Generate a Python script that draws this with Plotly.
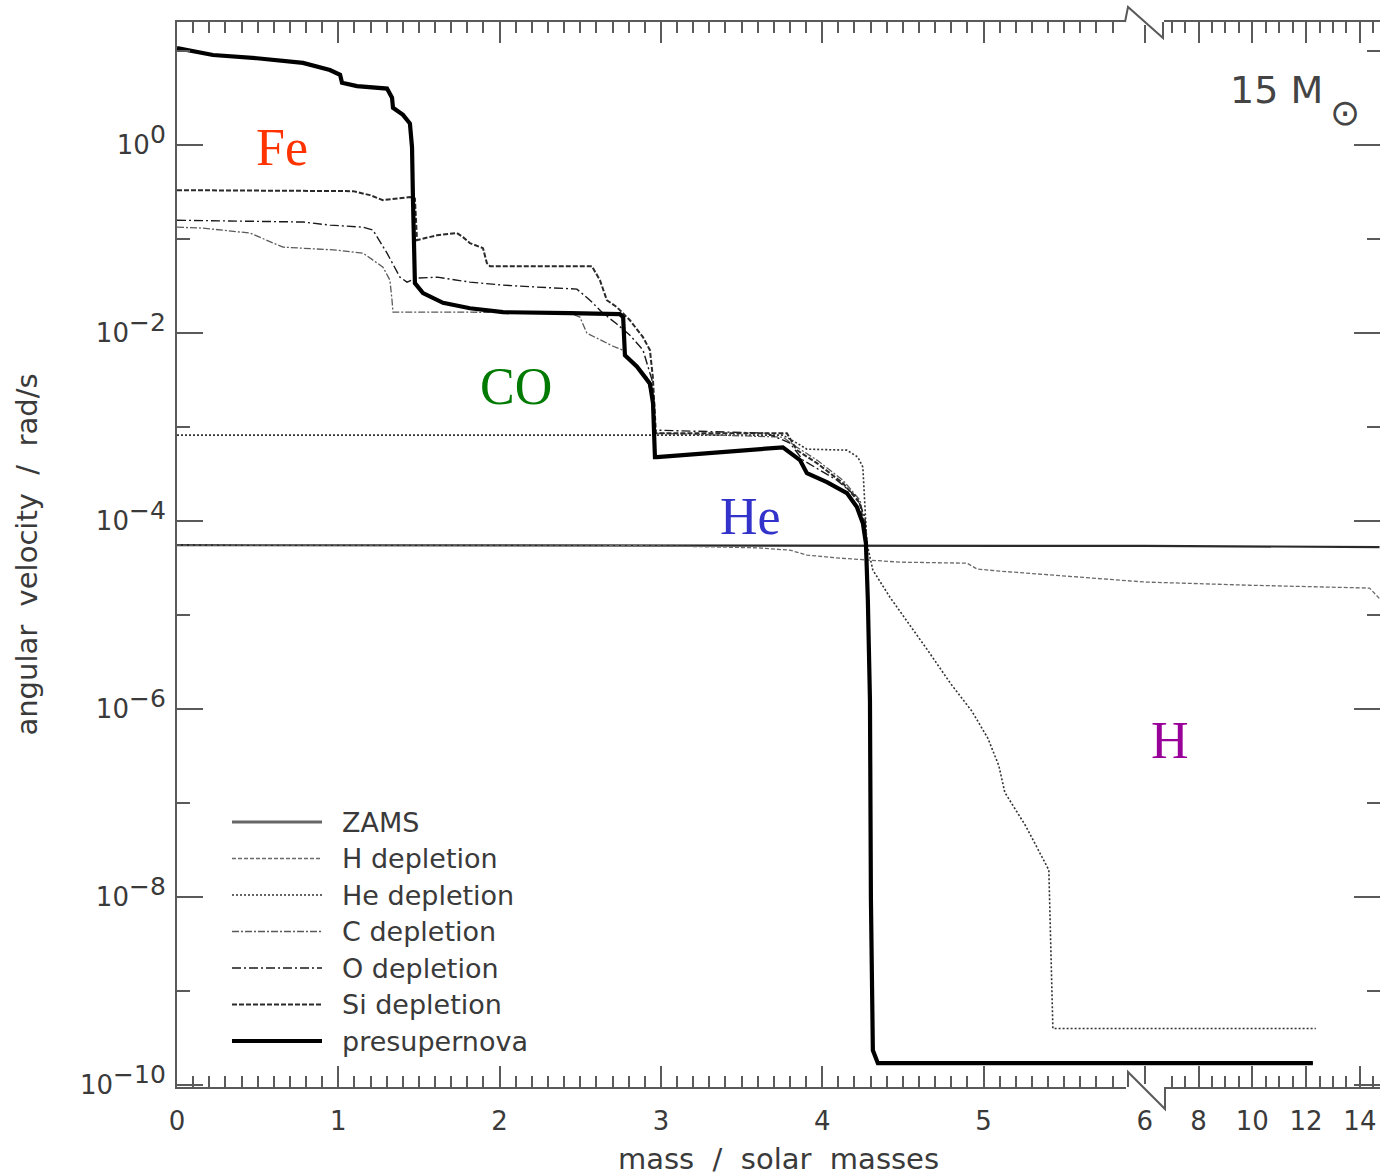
import plotly.graph_objects as go

# ---------------- data (mass in solar masses, angular velocity in rad/s) ----------------
zams_m = [0.0, 6.0, 14.73]
zams_w = [5.55e-5, 5.45e-5, 5.3e-5]

hdep_m = [0.0, 2.622, 3.137, 3.596, 3.800, 3.905, 4.110, 4.482, 4.898, 4.960, 5.102, 5.412, 6.0, 9.90, 14.36, 14.73]
hdep_w = [5.55e-5, 5.55e-5, 5.4e-5, 5.2e-5, 4.91e-5, 4.35e-5, 4.04e-5, 3.66e-5, 3.57e-5, 3.09e-5, 2.94e-5,
          2.67e-5, 2.25e-5, 2.08e-5, 1.94e-5, 1.5e-5]

hedep_m = [0.0, 3.756, 3.843, 3.905, 4.153, 4.221, 4.252, 4.265, 4.277, 4.314, 4.420, 4.655, 4.798, 4.928,
           5.027, 5.095, 5.132, 5.262, 5.405, 5.430, 12.36]
hedep_w = [8.22e-4, 8.22e-4, 6.76e-4, 5.83e-4, 5.69e-4, 4.80e-4, 3.75e-4, 1.31e-4, 5.83e-5, 3.01e-5, 1.55e-5,
           4.2e-6, 1.85e-6, 9.5e-7, 4.9e-7, 2.5e-7, 1.3e-7, 5.7e-8, 1.94e-8, 4.0e-10, 4.0e-10]

cdep_m = [0.0, 0.161, 0.452, 0.657, 0.992, 1.153, 1.277, 1.320, 1.333, 1.339, 1.816, 2.436, 2.498, 2.541,
          2.700, 2.765, 2.808, 2.914, 2.944, 2.963, 3.756, 3.843, 3.967, 4.128, 4.234, 4.265, 4.277,
          4.283, 4.296, 4.302, 4.314, 4.345, 12.25]
cdep_w = [0.134, 0.131, 0.116, 0.0822, 0.0764, 0.0710, 0.0504, 0.0366, 0.0224, 0.0167, 0.0167, 0.0163,
          0.0148, 0.0100, 0.0073, 0.0066, 0.00516, 0.0034, 0.00194, 8.63e-4, 7.83e-4, 6.12e-4, 4.46e-4,
          2.73e-4, 1.67e-4, 9.5e-5, 5.83e-5, 1.44e-5, 1.25e-6, 9.3e-9, 2.35e-10, 1.71e-10, 1.71e-10]

odep_m = [0.0, 0.781, 0.948, 1.153, 1.215, 1.302, 1.382, 1.426, 1.488, 1.612, 1.816, 2.021, 2.231, 2.479,
          2.560, 2.641, 2.727, 2.808, 2.889, 2.944, 2.963, 3.657, 3.800, 3.880, 4.091, 4.215, 4.265, 4.277,
          4.283, 4.296, 4.302, 4.314, 4.345, 12.25]
odep_w = [0.159, 0.152, 0.141, 0.134, 0.125, 0.0710, 0.0394, 0.0349, 0.0385, 0.0394, 0.0349, 0.0324, 0.0309,
          0.0294, 0.0224, 0.0163, 0.0125, 0.0095, 0.0066, 0.0032, 9.29e-4, 8.63e-4, 6.76e-4, 4.46e-4, 2.73e-4,
          1.80e-4, 1.10e-4, 5.83e-5, 1.44e-5, 1.25e-6, 9.3e-9, 2.35e-10, 1.71e-10, 1.71e-10]

sidep_m = [0.0, 1.091, 1.196, 1.277, 1.444, 1.475, 1.488, 1.612, 1.736, 1.773, 1.816, 1.897, 1.921, 1.940,
           2.572, 2.622, 2.665, 2.727, 2.808, 2.889, 2.932, 2.950, 2.969, 3.781, 3.843, 3.967, 4.128, 4.234,
           4.265, 4.283, 4.296, 4.302, 4.314, 4.345, 12.25]
sidep_w = [0.332, 0.324, 0.294, 0.260, 0.280, 0.270, 0.0976, 0.110, 0.116, 0.105, 0.0906, 0.0802, 0.0556,
           0.0516, 0.0516, 0.0366, 0.0224, 0.0189, 0.0137, 0.00906, 0.00659, 0.0034, 8.63e-4, 8.63e-4,
           5.69e-4, 4.14e-4, 2.54e-4, 1.55e-4, 7.45e-5, 1.44e-5, 1.25e-6, 9.3e-9, 2.35e-10, 1.71e-10, 1.71e-10]

presn_m = [0.0, 0.223, 0.496, 0.781, 0.948, 1.011, 1.023, 1.116, 1.302, 1.333, 1.339, 1.401, 1.444, 1.457,
           1.463, 1.475, 1.525, 1.649, 1.816, 2.021, 2.436, 2.746, 2.766, 2.777, 2.852, 2.932, 2.951, 2.963,
           2.975, 3.756, 3.862, 3.905, 4.029, 4.153, 4.215, 4.252, 4.271, 4.283, 4.296, 4.302, 4.314, 4.345, 12.25]
presn_w = [10.8, 9.1, 8.4, 7.5, 6.3, 5.6, 4.6, 4.24, 4.0, 3.2, 2.5, 2.1, 1.7, 0.95, 0.26, 0.034, 0.0267,
           0.021, 0.0184, 0.0167, 0.0163, 0.0159, 0.0148, 0.0058, 0.0044, 0.0029, 0.0018, 4.8e-4, 4.8e-4,
           6.1e-4, 4.46e-4, 3.24e-4, 2.60e-4, 1.99e-4, 1.41e-4, 9.5e-5, 5.8e-5, 1.44e-5, 1.25e-6, 9.3e-9,
           2.35e-10, 1.71e-10, 1.71e-10]

series_names = ["ZAMS", "H depletion", "He depletion", "C depletion", "O depletion", "Si depletion", "presupernova"]

x_major_labels = ["0", "1", "2", "3", "4", "5", "6", "8", "10", "12", "14"]
x_major_values = [0, 1, 2, 3, 4, 5, 6, 8, 10, 12, 14]
y_major_exps = [0, -2, -4, -6, -8, -10]
y_minor_exps = [1, -1, -3, -5, -7, -9]

region_labels = ["Fe", "CO", "He", "H"]

# ---------------- broken mass axis: 0-6 linear, 6-14 compressed by factor 6 ----------------
def brk(m):
    return m if m <= 6 else 6 + (m - 6) / 6.0

def bx(ms):
    return [brk(m) for m in ms]

styles = [
    dict(color="#2a2a2a", width=2.2, dash="solid"),
    dict(color="#6a6a6a", width=1.3, dash="4px,2px"),
    dict(color="#333333", width=1.6, dash="2px,2px"),
    dict(color="#5a5a5a", width=1.3, dash="7px,2px,2px,2px"),
    dict(color="#1a1a1a", width=1.4, dash="9px,3px,2px,3px"),
    dict(color="#2a2a2a", width=2.0, dash="5px,2px"),
    dict(color="#000000", width=4.2, dash="solid"),
]
data_m = [zams_m, hdep_m, hedep_m, cdep_m, odep_m, sidep_m, presn_m]
data_w = [zams_w, hdep_w, hedep_w, cdep_w, odep_w, sidep_w, presn_w]

fig = go.Figure()
for name, ms, ws, st in zip(series_names, data_m, data_w, styles):
    fig.add_trace(go.Scatter(x=bx(ms), y=ws, mode="lines", name=name, line=st, showlegend=False))

# ticks
x_minor = [i / 10 for i in range(1, 59) if i % 10 != 0] + \
          [brk(v / 2) for v in range(14, 30) if v % 4 != 0]
txt_col = "#3a3a3a"
tick_font = dict(family="DejaVu Sans", size=26, color=txt_col)
axis_col = "#5a5a5a"

def ylab(e):
    return "10<sup><span style='font-size:25px'>%s</span></sup>" % str(e).replace("-", "\u2212")

fig.update_xaxes(
    range=[0, 7.458], showline=True, linecolor=axis_col, linewidth=2, mirror="ticks",
    ticks="inside", ticklen=21, tickwidth=2, tickcolor=axis_col,
    tickmode="array", tickvals=bx(x_major_values), ticktext=x_major_labels,
    minor=dict(tickmode="array", tickvals=x_minor, ticks="inside", ticklen=11, tickwidth=2, tickcolor=axis_col),
    showgrid=False, zeroline=False, tickfont=tick_font, ticklabelstandoff=10,
    title=dict(text="mass  /  solar  masses", font=dict(family="DejaVu Sans", size=29, color=txt_col), standoff=15),
    automargin=False,
)
fig.update_yaxes(
    type="log", range=[-10.02, 1.31], showline=True, linecolor=axis_col, linewidth=2, mirror="ticks",
    ticks="inside", ticklen=26, tickwidth=2, tickcolor=axis_col,
    tickmode="array", tickvals=[10.0 ** e for e in y_major_exps],
    ticktext=[ylab(e) for e in y_major_exps],
    minor=dict(tickmode="array", tickvals=[10.0 ** e for e in y_minor_exps], ticks="inside", ticklen=13,
               tickwidth=2, tickcolor=axis_col),
    showgrid=False, zeroline=False, tickfont=tick_font, ticklabelstandoff=4,
    title=dict(text="angular  velocity  /  rad/s", font=dict(family="DejaVu Sans", size=29, color=txt_col), standoff=34),
    automargin=False,
)

W, H = 1380, 1176
L, R, T, B = 177, 0, 22, 89
pw, ph = W - L - R, H - T - B

def px(xp):
    return (xp - L) / pw

def py(yp):
    return (H - B - yp) / ph

annotations = []
# region labels
reg_pos = [(282, 148), (516, 387), (750, 516), (1170, 740)]
reg_col = ["#ff3300", "#007a00", "#3333cc", "#990099"]
for txt, (xx, yy), c in zip(region_labels, reg_pos, reg_col):
    annotations.append(dict(text=txt, x=px(xx), y=py(yy), xref="paper", yref="paper", showarrow=False,
                            xanchor="center", yanchor="middle",
                            font=dict(family="Liberation Serif", size=52, color=c)))
# 15 Msun
annotations.append(dict(text="15 M", x=px(1325), y=py(90), xref="paper", yref="paper", showarrow=False,
                        xanchor="right", yanchor="middle", font=dict(family="DejaVu Sans", size=38, color="#444")))
annotations.append(dict(text="\u2299", x=px(1345), y=py(112), xref="paper", yref="paper", showarrow=False,
                        xanchor="center", yanchor="middle", font=dict(family="DejaVu Sans", size=36, color="#444")))

shapes = []
# hand-drawn legend
leg_y0, leg_dy = 822, 36.5
for i, (name, st) in enumerate(zip(series_names, styles)):
    yy = leg_y0 + i * leg_dy
    lw = st["width"] if i != 0 else 3
    shapes.append(dict(type="line", xref="paper", yref="paper", x0=px(232), x1=px(322), y0=py(yy), y1=py(yy),
                       line=dict(color=st["color"] if i != 0 else "#666", width=lw, dash=st["dash"])))
    annotations.append(dict(text=name, x=px(340), y=py(yy), xref="paper", yref="paper", showarrow=False,
                            xanchor="left", yanchor="middle",
                            font=dict(family="DejaVu Sans", size=27, color=txt_col)))

# axis-break marks (top and bottom)
for (ya, yb) in [(19, 25), (1084, 1090)]:
    shapes.append(dict(type="rect", xref="paper", yref="paper", x0=px(1126), x1=px(1164), y0=py(yb), y1=py(ya),
                       fillcolor="white", line=dict(width=0), layer="above"))
shapes.append(dict(type="path", xref="paper", yref="paper", layer="above",
                   path="M %f,%f L %f,%f L %f,%f L %f,%f" % (px(1125), py(22), px(1128), py(7), px(1163), py(38), px(1163), py(22)),
                   line=dict(color=axis_col, width=2)))
shapes.append(dict(type="path", xref="paper", yref="paper", layer="above",
                   path="M %f,%f L %f,%f L %f,%f L %f,%f" % (px(1128), py(1087), px(1128), py(1072), px(1165), py(1109), px(1165), py(1087)),
                   line=dict(color=axis_col, width=2)))

fig.update_layout(
    width=W, height=H, margin=dict(l=L, r=R, t=T, b=B, autoexpand=False),
    paper_bgcolor="white", plot_bgcolor="white",
    annotations=annotations, shapes=shapes, showlegend=False,
)

fig.write_html("out.html")
